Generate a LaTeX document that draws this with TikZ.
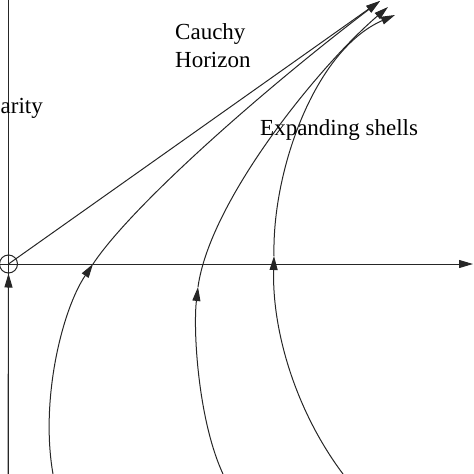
\documentclass[tikz,border=0pt]{standalone}
\usepackage{fontspec}
\setmainfont{Liberation Serif}
\usetikzlibrary{arrows.meta}
\begin{document}
\begin{tikzpicture}[x=1pt,y=-1pt,
  ln/.style={draw=black!85,line width=1pt},
  tip/.style={-{Triangle[length=14pt,width=8pt]}},
  lbl/.style={font=\fontsize{23}{28}\selectfont,inner sep=0pt,text=black}]
\useasboundingbox (0,0) rectangle (474,474);
% axes
\coordinate (vbot) at (8,474);
\coordinate (vtop) at (8,0);
\coordinate (hl) at (0,264);
\coordinate (hr) at (473,264);
\node[circle,ln,minimum size=18pt,inner sep=0pt] (sing) at (8.5,264) {};
\draw[ln] (vbot) -- (vtop);
\draw[ln,tip] (vbot) -- (sing.south);
\draw[ln,tip] (hl) -- (hr);
% end points
\coordinate (t1) at (380,1);
\coordinate (t2) at (388,7);
\coordinate (t3) at (395,15);
% Cauchy horizon line
\draw[ln,tip] (sing.center) -- (t1);
% shell 1
\coordinate (b1) at (53,474);
\coordinate (m1) at (93,264);
\draw[ln,tip] (b1) .. controls (40,400) and (62,310) .. (m1);
\draw[ln,tip] (m1) .. controls (133,204) and (268,86) .. (t1);
% shell 2
\coordinate (b2) at (223,474);
\coordinate (m2) at (198,287);
\draw[ln,tip] (b2) .. controls (198,420) and (193,330) .. (m2);
\draw[ln,tip] (m2) .. controls (210,200) and (320,65) .. (t2);
% shell 3
\coordinate (b3) at (343,474);
\coordinate (m3) at (274,256);
\draw[ln,tip] (b3) .. controls (295,410) and (272,330) .. (m3);
\draw[ln,tip] (m3) .. controls (272,170) and (315,50) .. (t3);
% labels
\node[lbl,anchor=north west,align=left] (cauchy) at (175,23.3) {Cauchy\\Horizon};
\node[lbl,anchor=base west] (shells) at (260,135) {Expanding shells};
\node[lbl,anchor=base east] (singlbl) at (43,113) {arity};
\end{tikzpicture}
\end{document}
